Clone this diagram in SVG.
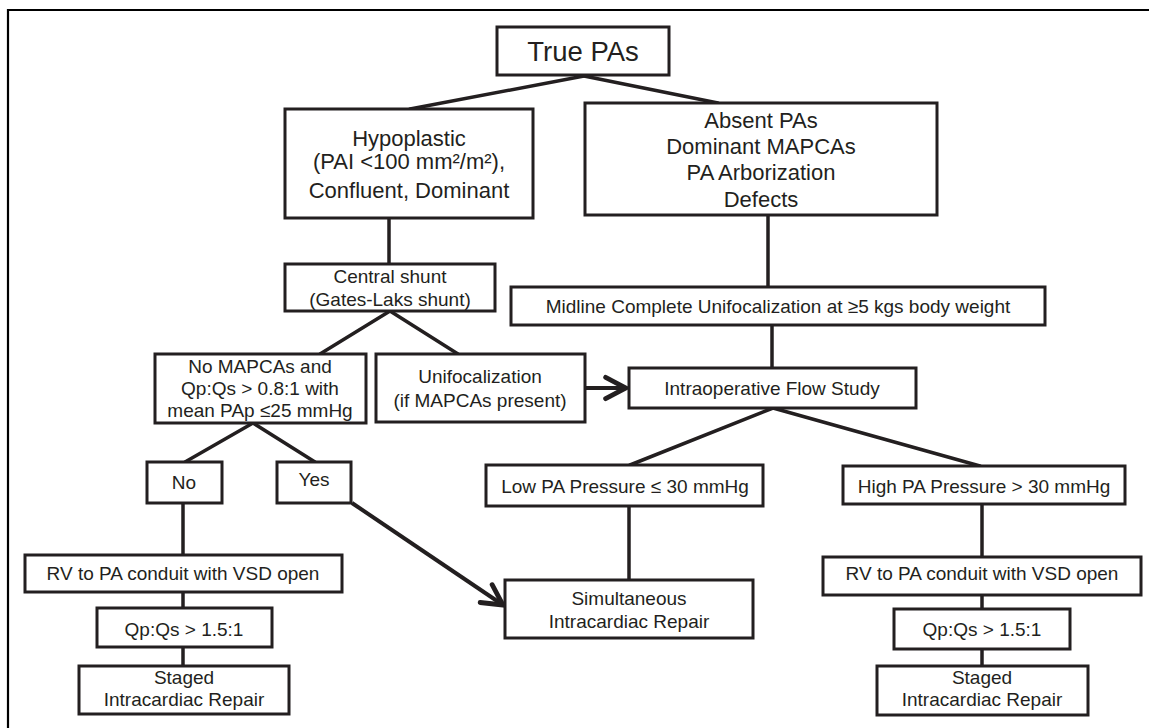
<svg xmlns="http://www.w3.org/2000/svg" width="1149" height="728" viewBox="0 0 1149 728">
<defs>
<style>
.box{fill:#fff;stroke:#231f20;stroke-width:3}
.t{font-family:"Liberation Sans",Arial,sans-serif;fill:#231f20;text-anchor:middle}
.s19{font-size:19px}
.s22{font-size:22px}
.conn{stroke:#231f20;stroke-width:3.5;fill:none;stroke-linecap:round}
.arr{stroke:#231f20;stroke-width:4;fill:none;marker-end:url(#chev)}
</style>
<marker id="chev" markerUnits="userSpaceOnUse" markerWidth="30" markerHeight="30" viewBox="-24 -14 28 28" refX="0" refY="0" orient="auto">
<path d="M-19,-10 L0,0 L-19,10" fill="none" stroke="#231f20" stroke-width="4.5" stroke-linecap="round" stroke-linejoin="miter"/>
</marker>
</defs>
<rect width="1149" height="728" fill="#fff"/>
<path d="M8,728 V10 H1149" fill="none" stroke="#000" stroke-width="2.2"/>

<g id="connectors">
<line class="conn" x1="584" y1="76" x2="410" y2="109"/>
<line class="conn" x1="584" y1="76" x2="718" y2="103"/>
<line class="conn" x1="389" y1="218" x2="389" y2="264"/>
<line class="conn" x1="768" y1="215" x2="768" y2="287"/>
<line class="conn" x1="390" y1="311" x2="320" y2="354"/>
<line class="conn" x1="390" y1="311" x2="458" y2="354"/>
<line class="conn" x1="772" y1="325" x2="772" y2="368"/>
<line class="conn" x1="773" y1="408" x2="630" y2="465"/>
<line class="conn" x1="773" y1="408" x2="980" y2="466"/>
<line class="conn" x1="253" y1="423" x2="185" y2="462"/>
<line class="conn" x1="253" y1="423" x2="315" y2="462"/>
<line class="conn" x1="183" y1="503" x2="183" y2="555"/>
<line class="conn" x1="183" y1="592" x2="183" y2="608"/>
<line class="conn" x1="183" y1="647" x2="183" y2="666"/>
<line class="conn" x1="629" y1="506" x2="629" y2="580"/>
<line class="conn" x1="982" y1="504" x2="982" y2="557"/>
<line class="conn" x1="982" y1="595" x2="982" y2="609"/>
<line class="conn" x1="982" y1="649" x2="982" y2="666"/>
<line class="arr" x1="586" y1="388" x2="626" y2="388"/>
<line class="arr" x1="352" y1="503" x2="503" y2="605"/>
</g>

<g id="true-pas">
<rect class="box" x="497" y="27" width="172" height="48"/>
<text class="t" x="583" y="61" font-size="27.5">True PAs</text>
</g>

<g id="hypoplastic">
<rect class="box" x="285" y="109" width="248" height="109"/>
<text class="t s22" x="409" y="146">Hypoplastic</text>
<text class="t s22" x="409" y="169">(PAI &lt;100 mm²/m²),</text>
<text class="t s22" x="409" y="198">Confluent, Dominant</text>
</g>

<g id="absent">
<rect class="box" x="585" y="103" width="352" height="112"/>
<text class="t s22" x="761" y="128">Absent PAs</text>
<text class="t s22" x="761" y="154">Dominant MAPCAs</text>
<text class="t s22" x="761" y="180">PA Arborization</text>
<text class="t s22" x="761" y="207">Defects</text>
</g>

<g id="central-shunt">
<rect class="box" x="285" y="264" width="210" height="47"/>
<text class="t s19" x="390" y="283">Central shunt</text>
<text class="t s19" x="390" y="306">(Gates-Laks shunt)</text>
</g>

<g id="midline">
<rect class="box" x="511" y="287" width="534" height="38"/>
<text class="t s19" x="778" y="313">Midline Complete Unifocalization at ≥5 kgs body weight</text>
</g>

<g id="no-mapcas">
<rect class="box" x="155" y="354" width="211" height="69"/>
<text class="t s19" x="260" y="373">No MAPCAs and</text>
<text class="t s19" x="260" y="395">Qp:Qs &gt; 0.8:1 with</text>
<text class="t s19" x="260" y="417">mean PAp ≤25 mmHg</text>
</g>

<g id="unifocalization">
<rect class="box" x="376" y="354" width="209" height="68"/>
<text class="t s19" x="480" y="383">Unifocalization</text>
<text class="t s19" x="480" y="407">(if MAPCAs present)</text>
</g>

<g id="flow-study">
<rect class="box" x="629" y="368" width="287" height="40"/>
<text class="t s19" x="772" y="395">Intraoperative Flow Study</text>
</g>

<g id="no">
<rect class="box" x="147" y="462" width="75" height="41"/>
<text class="t s19" x="184" y="489">No</text>
</g>

<g id="yes">
<rect class="box" x="277" y="462" width="74" height="41"/>
<text class="t s19" x="314" y="486">Yes</text>
</g>

<g id="low-pa">
<rect class="box" x="486" y="465" width="277" height="41"/>
<text class="t s19" x="625" y="493">Low PA Pressure ≤ 30 mmHg</text>
</g>

<g id="high-pa">
<rect class="box" x="843" y="466" width="282" height="38"/>
<text class="t s19" x="984" y="493">High PA Pressure &gt; 30 mmHg</text>
</g>

<g id="rv-left">
<rect class="box" x="25" y="555" width="317" height="37"/>
<text class="t s19" x="183" y="580">RV to PA conduit with VSD open</text>
</g>

<g id="qpqs-left">
<rect class="box" x="97" y="608" width="175" height="39"/>
<text class="t s19" x="184" y="636">Qp:Qs &gt; 1.5:1</text>
</g>

<g id="staged-left">
<rect class="box" x="79" y="666" width="210" height="48"/>
<text class="t s19" x="184" y="684">Staged</text>
<text class="t s19" x="184" y="706">Intracardiac Repair</text>
</g>

<g id="simultaneous">
<rect class="box" x="505" y="580" width="248" height="58"/>
<text class="t s19" x="629" y="605">Simultaneous</text>
<text class="t s19" x="629" y="628">Intracardiac Repair</text>
</g>

<g id="rv-right">
<rect class="box" x="823" y="557" width="318" height="38"/>
<text class="t s19" x="982" y="580">RV to PA conduit with VSD open</text>
</g>

<g id="qpqs-right">
<rect class="box" x="894" y="609" width="176" height="40"/>
<text class="t s19" x="982" y="636">Qp:Qs &gt; 1.5:1</text>
</g>

<g id="staged-right">
<rect class="box" x="877" y="666" width="211" height="49"/>
<text class="t s19" x="982" y="684">Staged</text>
<text class="t s19" x="982" y="706">Intracardiac Repair</text>
</g>
</svg>
